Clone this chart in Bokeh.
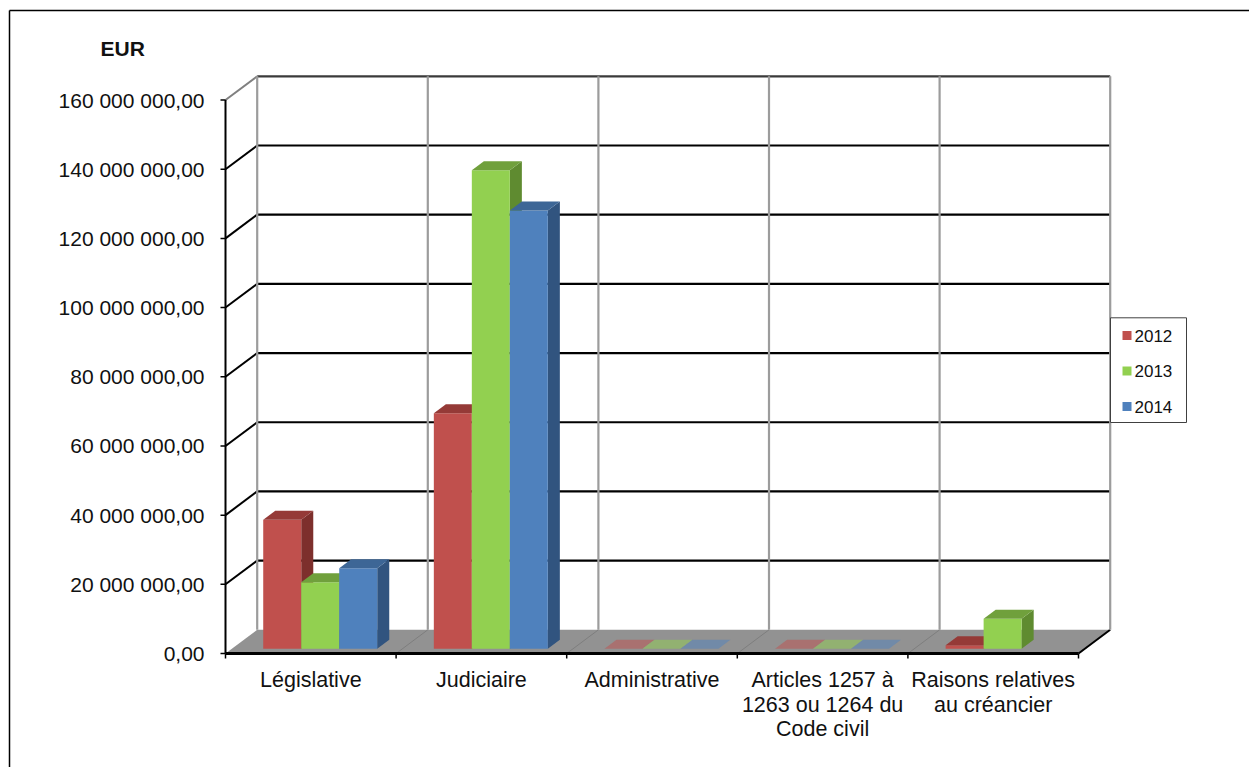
from bokeh.plotting import figure
from bokeh.models import Range1d, ColumnDataSource
from bokeh.core.properties import value
from bokeh.embed import file_html
from bokeh.resources import INLINE

# ---- data -------------------------------------------------------------
categories = [
    "Législative",
    "Judiciaire",
    "Administrative",
    "Articles 1257 à\n1263 ou 1264 du\nCode civil",
    "Raisons relatives\nau créancier",
]
years = ["2012", "2013", "2014"]
v2012 = [37.3e6, 68.1e6, 0.0, 0.0, 1.0e6]
v2013 = [19.2e6, 138.3e6, 0.0, 0.0, 8.7e6]
v2014 = [23.3e6, 126.7e6, 0.0, 0.0, None]
y_ticks = [0, 20e6, 40e6, 60e6, 80e6, 100e6, 120e6, 140e6, 160e6]
unit_label = "EUR"

series = [v2012, v2013, v2014]

# ---- styling -----------------------------------------------------------
front_colors = ["#C0504D", "#92D050", "#4F81BD"]
top_colors = ["#953a37", "#70a03c", "#3d6696"]
side_colors = ["#7d2f2c", "#5f8b30", "#31547f"]
FONT = value("Liberation Sans")

# ---- page geometry (pixels) and the oblique 3-D projection --------------
W, H = 1249, 767
ORIGIN_PX, ORIGIN_PY = 225.0, 653.0      # front-left corner of the floor
CAT_PX = 170.6                          # width of one category
VALUE_PX = 553.5 / 160e6                # pixels per euro
DEPTH_PX = (31.7, 23.7)                 # floor depth (right, up)


def sx(px):
    return (px - ORIGIN_PX) / CAT_PX


def sy(py):
    return (ORIGIN_PY - py) / VALUE_PX


DX = DEPTH_PX[0] / CAT_PX
DY = DEPTH_PX[1] / VALUE_PX
NCAT = len(categories)
VMAX = y_ticks[-1]

BAR_OFF, BAR_W = 0.184, 0.2227          # bar placement inside a category
D_FRONT, D_BACK = 0.2, 0.58             # bar depth span (fraction of floor)

p = figure(
    width=W, height=H,
    x_range=Range1d(sx(0), sx(W)), y_range=Range1d(sy(H), sy(0)),
    x_axis_location=None, y_axis_location=None,
    toolbar_location=None, output_backend="svg", min_border=0,
)
p.outline_line_color = None
p.grid.grid_line_color = None
p.background_fill_color = "white"
p.border_fill_color = "white"

# ---- floor ---------------------------------------------------------------
p.patch([0, NCAT, NCAT + DX, DX], [0, 0, DY, DY], fill_color="#929292", line_color=None)
p.segment(x0=list(range(1, NCAT)), y0=[0] * (NCAT - 1),
          x1=[c + DX for c in range(1, NCAT)], y1=[DY] * (NCAT - 1),
          line_color="#7e7e7e", line_width=1)
p.segment(x0=[NCAT], y0=[0], x1=[NCAT + DX], y1=[DY], line_color="black", line_width=2)

# ---- back wall and left wall grid ------------------------------------
grid_vals = y_ticks[1:]
grid_colors = ["black"] * (len(grid_vals) - 1) + ["#3a3a3a"]
p.segment(x0=[DX] * len(grid_vals), y0=[t + DY for t in grid_vals],
          x1=[NCAT + DX] * len(grid_vals), y1=[t + DY for t in grid_vals],
          line_color=grid_colors, line_width=2.2)
side_colors_grid = ["black"] * (len(grid_vals) - 1) + ["#808080"]
p.segment(x0=[0] * len(grid_vals), y0=grid_vals,
          x1=[DX] * len(grid_vals), y1=[t + DY for t in grid_vals],
          line_color=side_colors_grid, line_width=2)
p.segment(x0=[c + DX for c in range(NCAT + 1)], y0=[DY] * (NCAT + 1),
          x1=[c + DX for c in range(NCAT + 1)], y1=[VMAX + DY] * (NCAT + 1),
          line_color="#9c9c9c", line_width=2.2)

# ---- 3-D bars ----------------------------------------------------------------
fx, fy, fc, fa = [], [], [], []
for c in range(NCAT):
    for s, vals in enumerate(series):
        v = vals[c]
        if v is None:
            continue
        x0 = c + BAR_OFF + s * BAR_W
        x1 = x0 + BAR_W
        ax, ay = D_FRONT * DX, D_FRONT * DY
        bx, by = D_BACK * DX, D_BACK * DY
        top = ([x0 + ax, x1 + ax, x1 + bx, x0 + bx], [v + ay, v + ay, v + by, v + by])
        if v == 0:
            fx.append(top[0]); fy.append(top[1]); fc.append(front_colors[s]); fa.append(0.5)
            continue
        # side face, front face, top face
        fx.append([x1 + ax, x1 + ax, x1 + bx, x1 + bx]); fy.append([ay, v + ay, v + by, by])
        fc.append(side_colors[s]); fa.append(1.0)
        fx.append([x0 + ax, x1 + ax, x1 + ax, x0 + ax]); fy.append([ay, ay, v + ay, v + ay])
        fc.append(front_colors[s]); fa.append(1.0)
        fx.append(top[0]); fy.append(top[1])
        fc.append(top_colors[s]); fa.append(1.0)

p.patches(xs="xs", ys="ys", fill_color="c", fill_alpha="a", line_color=None,
          source=ColumnDataSource(dict(xs=fx, ys=fy, c=fc, a=fa)))

# ---- front axes ----------------------------------------------------------------
p.segment(x0=[0], y0=[0], x1=[0], y1=[VMAX], line_color="black", line_width=2)
p.segment(x0=[0], y0=[0], x1=[NCAT], y1=[0], line_color="black", line_width=3)
tick_len_x = 5 / CAT_PX
tick_len_y = 5 / VALUE_PX
p.segment(x0=[0] * len(y_ticks), y0=y_ticks, x1=[-tick_len_x] * len(y_ticks), y1=y_ticks,
          line_color="black", line_width=1.5)
p.segment(x0=list(range(NCAT + 1)), y0=[0] * (NCAT + 1),
          x1=list(range(NCAT + 1)), y1=[-tick_len_y] * (NCAT + 1),
          line_color="black", line_width=1.5)


def fmt(t):
    return f"{t:,.2f}".replace(",", " ").replace(".", ",")


p.text(x=[-21 / CAT_PX] * len(y_ticks), y=y_ticks, text=[fmt(t) for t in y_ticks],
       text_font=FONT, text_font_size="21px", text_align="right",
       text_baseline="middle", text_color="#111111")

lx, ly, lt = [], [], []
for c, label in enumerate(categories):
    for i, line in enumerate(label.split("\n")):
        lx.append(c + 0.5)
        ly.append(sy(679.5 + i * 24.5))
        lt.append(line)
p.text(x=lx, y=ly, text=lt, text_font=FONT, text_font_size="21.5px",
       text_align="center", text_baseline="middle", text_color="#111111")

p.text(x=[sx(100)], y=[sy(47.5)], text=[unit_label], text_font=FONT,
       text_font_size="21px", text_font_style="bold", text_align="left",
       text_baseline="middle", text_color="#111111")

# ---- legend -------------------------------------------------------------------
p.quad(left=[sx(1110)], right=[sx(1186)], top=[sy(317.3)], bottom=[sy(422)],
       fill_color="white", line_color="#404040", line_width=1)
row_y = [sy(335 + 35.5 * i) for i in range(len(years))]
p.scatter(x=[sx(1126.5)] * len(years), y=row_y, marker="square", size=9,
          fill_color=front_colors, line_color=None)
p.text(x=[sx(1134)] * len(years), y=row_y, text=years, text_font=FONT,
       text_font_size="17px", text_align="left", text_baseline="middle",
       text_color="#111111")

# ---- chart border ----------------------------------------------------------
p.segment(x0=[sx(9), sx(9)], y0=[sy(10), sy(10)], x1=[sx(9), sx(W)], y1=[sy(H), sy(10)],
          line_color="black", line_width=1.5)

open("out.html", "w").write(file_html(p, INLINE))
